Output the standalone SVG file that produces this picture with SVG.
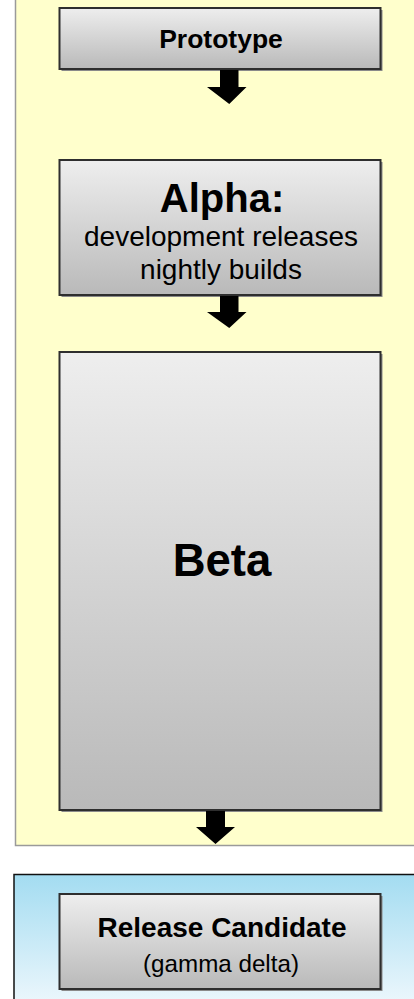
<svg xmlns="http://www.w3.org/2000/svg" width="414" height="999" viewBox="0 0 414 999">
  <defs>
    <linearGradient id="boxFill" x1="0" y1="0" x2="0" y2="1">
      <stop offset="0" stop-color="#eeeeee"/>
      <stop offset="1" stop-color="#b9b9b9"/>
    </linearGradient>
    <linearGradient id="blueFill" x1="0" y1="0" x2="0" y2="1">
      <stop offset="0" stop-color="#a3dcf1"/>
      <stop offset="1" stop-color="#f2f9fd"/>
    </linearGradient>
    <style>
      .panel-dev { fill: #ffffcc; stroke: #9a9a9a; stroke-width: 1.5; }
      .panel-rc { fill: url(#blueFill); stroke: #111111; stroke-width: 1.5; }
      .box { fill: url(#boxFill); stroke: #2e2e2e; stroke-width: 2; }
      .shadow { fill: #8a8a8a; }
      .arrow { fill: #000000; }
      text { font-family: "Liberation Sans", Arial, sans-serif; fill: #000000; text-anchor: middle; }
      .b { font-weight: bold; }
    </style>
  </defs>

  <!-- background panels -->
  <rect class="panel-dev" x="15.5" y="-5" width="410" height="850.5"/>
  <rect class="panel-rc" x="14" y="874.5" width="410" height="140"/>

  <!-- nodes -->
  <g id="prototype">
    <rect class="shadow" x="61.5" y="10" width="321" height="61"/>
    <rect class="box" x="59.5" y="8" width="321" height="61"/>
    <text class="b" x="221" y="48" font-size="26.5">Prototype</text>
  </g>

  <g id="alpha">
    <rect class="shadow" x="61.5" y="162" width="321" height="135"/>
    <rect class="box" x="59.5" y="160" width="321" height="135"/>
    <text class="b" x="222" y="212" font-size="40">Alpha:</text>
    <text x="221" y="246" font-size="28">development releases</text>
    <text x="221" y="279" font-size="28">nightly builds</text>
  </g>

  <g id="beta">
    <rect class="shadow" x="61.5" y="354" width="321" height="458"/>
    <rect class="box" x="59.5" y="352" width="321" height="458"/>
    <text class="b" x="222" y="576" font-size="45.5">Beta</text>
  </g>

  <g id="release-candidate">
    <rect class="shadow" x="61.5" y="896" width="321" height="95"/>
    <rect class="box" x="59.5" y="894" width="321" height="95"/>
    <text class="b" x="222" y="937" font-size="28">Release Candidate</text>
    <text x="221" y="972" font-size="24.2">(gamma delta)</text>
  </g>

  <!-- connectors: block arrows between stages -->
  <g id="connectors">
    <polygon class="arrow" points="220,70 238.5,70 238.5,87 246.5,87 229.25,104 207,87 220,87"/>
    <polygon class="arrow" points="220,296 238.5,296 238.5,312 246.5,312 229.25,328 207,312 220,312"/>
    <polygon class="arrow" points="206,811 225,811 225,827 235,827 215.5,844 196,827 206,827"/>
  </g>
</svg>
